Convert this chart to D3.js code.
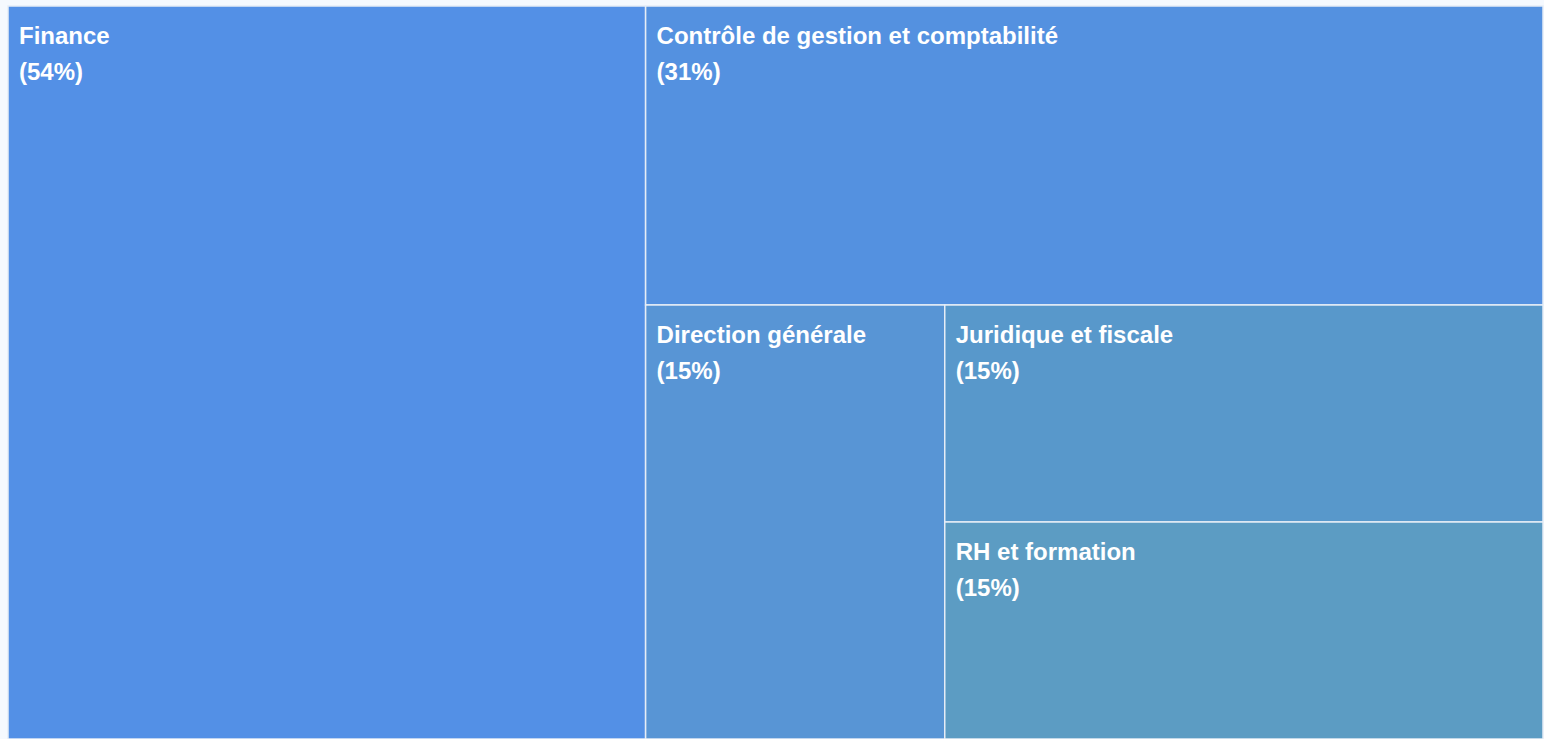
<!DOCTYPE html>
<html>
<head>
<meta charset="utf-8">
<script src="https://cdn.jsdelivr.net/npm/d3@7"></script>
<style>
  body { margin: 0; background: #f5f9fe; overflow: hidden; }
  text { font-family: "Liberation Sans", Arial, sans-serif; font-weight: bold; fill: #fff; }
</style>
</head>
<body>
<div id="chart"></div>
<script>
// domaines et part des répondants
var categories = ['Finance', 'Contrôle de gestion et comptabilité', 'Direction générale', 'Juridique et fiscale', 'RH et formation'];
var values = [54, 31, 15, 15, 15];
var colors = ['#5390e6', '#5491e0', '#5895d5', '#5898cb', '#5c9cc3'];

var width = 1544, height = 739;
var marginLeft = 8, marginTop = 6;

var svg = d3.select('#chart')
  .append('svg')
    .attr('width', width)
    .attr('height', height);

// chaque case prend sa part du reste, en alternant colonne / ligne
function alternate(parent, x0, y0, x1, y1) {
  var rest = parent.value;
  parent.children.forEach(function(node, i) {
    var k = node.value / rest;
    if (i % 2 === 0) {
      var x = x0 + (x1 - x0) * k;
      node.x0 = x0; node.x1 = x; node.y0 = y0; node.y1 = y1;
      x0 = x;
    } else {
      var y = y0 + (y1 - y0) * k;
      node.x0 = x0; node.x1 = x1; node.y0 = y0; node.y1 = y;
      y0 = y;
    }
    rest -= node.value;
  });
}

var root = d3.hierarchy({
    children: categories.map(function(c, i) {
      return { name: c, value: values[i], color: colors[i] };
    })
  })
  .sum(function(d) { return d.value || 0; })
  .sort(function(a, b) { return b.value - a.value; });

d3.treemap()
  .tile(alternate)
  .size([1543 - marginLeft, height - marginTop])
  (root);

var cells = svg.append('g')
    .attr('transform', 'translate(' + marginLeft + ',' + marginTop + ')')
  .selectAll('g')
  .data(root.leaves())
  .enter()
  .append('g')
    .attr('transform', function(d) { return 'translate(' + d.x0 + ',' + d.y0 + ')'; });

cells.append('rect')
  .attr('width', function(d) { return d.x1 - d.x0; })
  .attr('height', function(d) { return d.y1 - d.y0; })
  .attr('fill', function(d) { return d.data.color; })
  .attr('stroke', '#e6edf6')
  .attr('stroke-width', 1.5);

cells.append('text')
  .attr('x', 11)
  .attr('y', 38)
  .attr('font-size', 24)
  .text(function(d) { return d.data.name; });

cells.append('text')
  .attr('x', 11)
  .attr('y', 74)
  .attr('font-size', 24)
  .text(function(d) { return '(' + d.data.value + '%)'; });
</script>
</body>
</html>
